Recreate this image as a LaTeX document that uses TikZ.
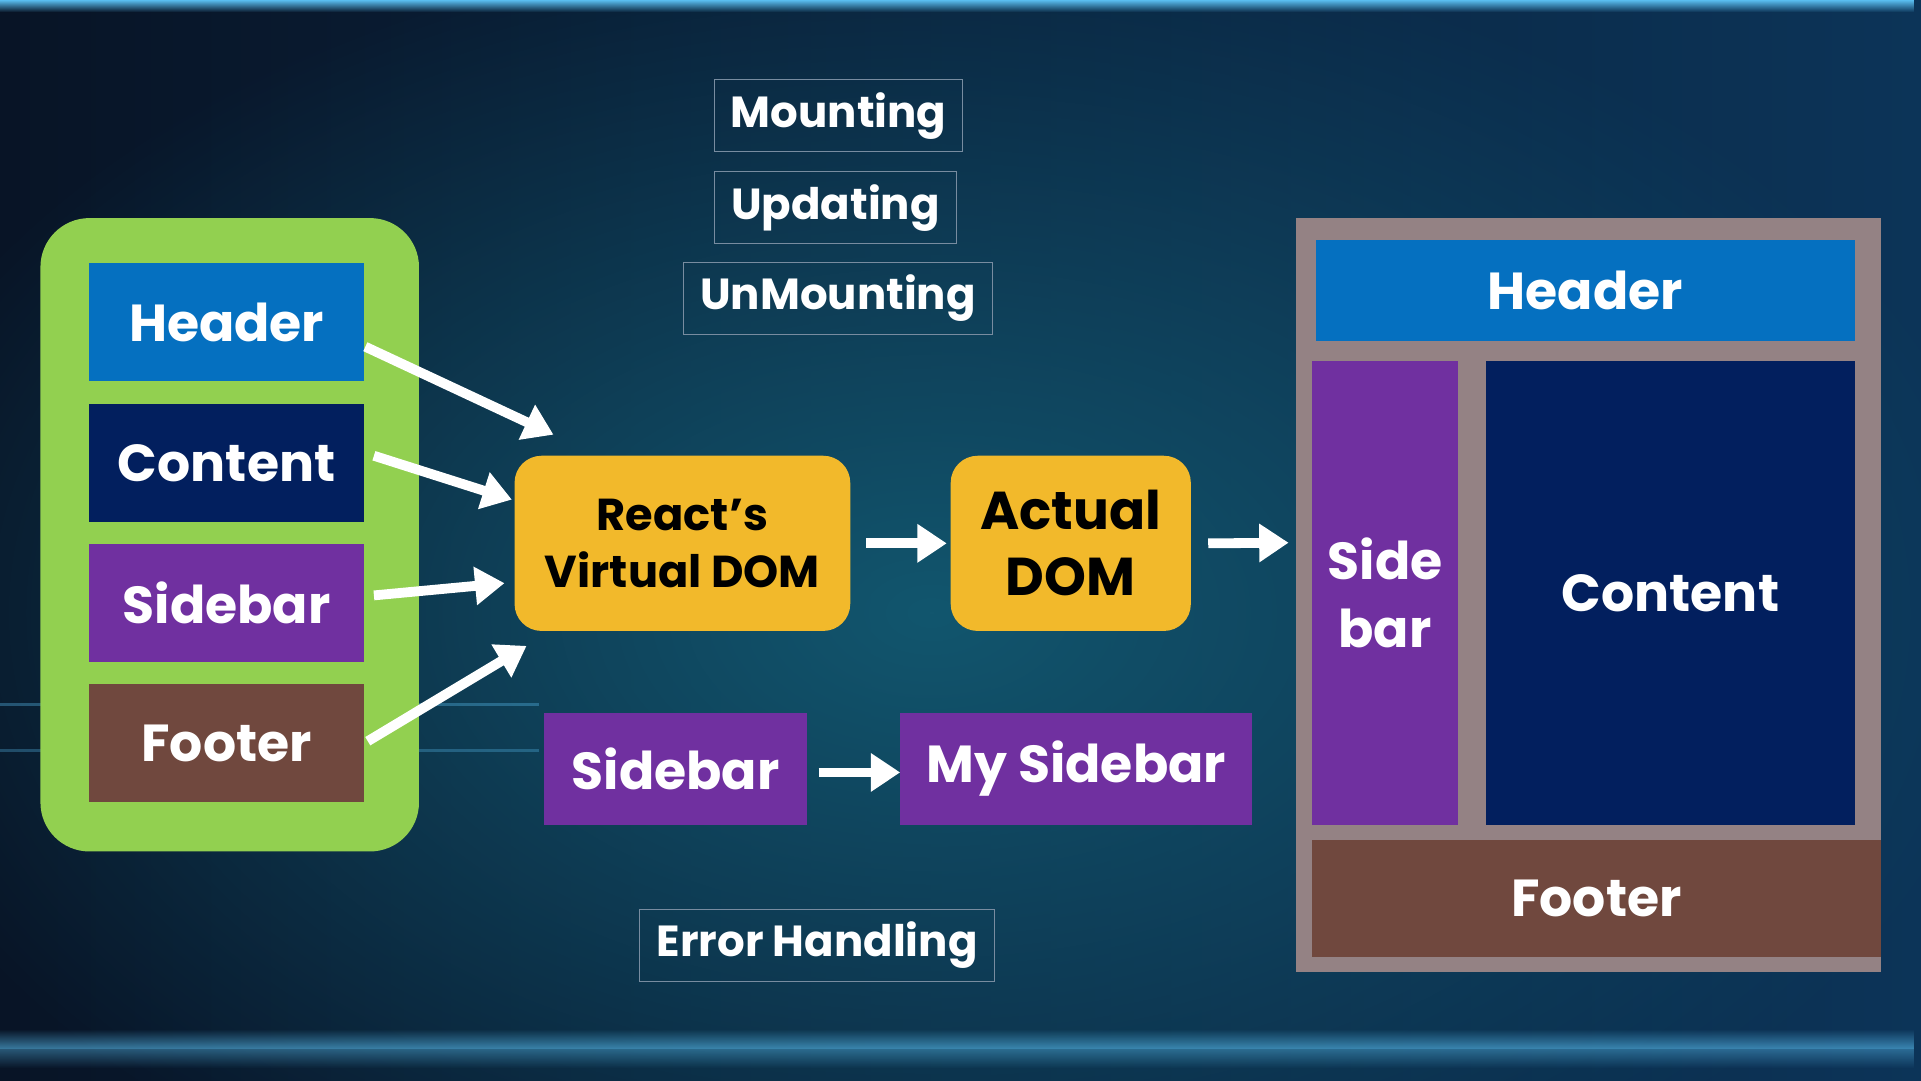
\documentclass[tikz,border=0pt]{standalone}
\usepackage{fontspec}
\setmainfont{Poppins}
\usetikzlibrary{arrows.meta,calc,fadings}
\tikzfading[name=softcircle, inner color=transparent!0, outer color=transparent!100]
\definecolor{bgleft}{RGB}{8,20,38}
\definecolor{bgright}{RGB}{12,52,88}
\definecolor{bgteal}{RGB}{18,86,110}
\definecolor{streak}{RGB}{90,190,240}
\definecolor{hblue}{RGB}{5,112,192}
\definecolor{cnavy}{RGB}{2,31,94}
\definecolor{spurple}{RGB}{112,48,160}
\definecolor{fbrown}{RGB}{112,72,62}
\definecolor{lgreen}{RGB}{146,208,80}
\definecolor{dorange}{RGB}{242,185,43}
\definecolor{fgray}{RGB}{148,130,132}
\definecolor{tline}{RGB}{120,140,160}
\begin{document}
\begin{tikzpicture}[x=1pt,y=-1pt,
  blk/.style={inner sep=0pt, text=white, font=\bfseries\fontsize{42.5}{46}\selectfont},
  tbox/.style={draw=tline, line width=0.8pt, inner sep=0pt, text=white, minimum height=59pt, font=\bfseries\fontsize{35.5}{40}\selectfont},
  obox/.style={fill=dorange, rounded corners=22pt, inner sep=0pt, text=black, align=center},
  bigarrow/.style={white, line width=8pt, -{Triangle[length=24pt,width=30pt]}}
]
\useasboundingbox (0,0) rectangle (1568,882);
% background
\shade[left color=bgleft, right color=bgright] (0,0) rectangle (1568,882);
\fill[bgteal, path fading=softcircle] (760,500) ellipse (900 and 560);
\fill[streak, path fading=south] (0,0) rectangle (1568,10);
\fill[streak, opacity=0.6, path fading=north] (0,840) rectangle (1568,856);
\fill[streak, opacity=0.4, path fading=south] (0,856) rectangle (1568,872);
\fill[streak, opacity=0.35] (0,574) rectangle (440,576.5);
\fill[streak, opacity=0.3] (0,611) rectangle (440,613.5);

% left group
\node[fill=lgreen, rounded corners=40pt, minimum width=309pt, minimum height=517pt, inner sep=0pt] (grp) at (187.5,436.5) {};
\node[blk, fill=hblue, minimum width=224pt, minimum height=96pt] (lh) at (185,263) {Header};
\node[blk, fill=cnavy, minimum width=224pt, minimum height=96pt] (lc) at (185,378) {Content};
\node[blk, fill=spurple, minimum width=224pt, minimum height=96pt] (ls) at (185,492) {Sidebar};
\node[blk, fill=fbrown, minimum width=224pt, minimum height=97pt] (lf) at (185,606.5) {Footer};

% lifecycle text boxes
\node[tbox, minimum width=203pt] (mount) at (684.5,94.5) {Mounting};
\node[tbox, minimum width=198pt] (upd) at (682,169.5) {Updating};
\node[tbox, minimum width=252pt] (unm) at (684,243.5) {UnMounting};
\node[tbox, minimum width=290pt] (err) at (667,771.5) {Error Handling};

% DOM boxes
\node[obox, minimum width=274pt, minimum height=143pt, font=\bfseries\fontsize{36.5}{47}\selectfont] (rvd) at (557,443.5) {React’s\\Virtual DOM};
\node[obox, minimum width=196pt, minimum height=143pt, font=\bfseries\fontsize{43.5}{54}\selectfont] (ad) at (874,443.5) {Actual\\DOM};

% sidebar rename
\node[blk, fill=spurple, minimum width=215pt, minimum height=91pt] (sb) at (551.5,627.5) {Sidebar};
\node[blk, fill=spurple, minimum width=287pt, minimum height=91pt] (msb) at (878.5,627.5) {My Sidebar};

% right layout
\node[fill=fgray, minimum width=477pt, minimum height=615pt, inner sep=0pt] (frame) at (1296.5,485.5) {};
\node[blk, fill=hblue, minimum width=440pt, minimum height=82pt] (rh) at (1294,237) {Header};
\node[blk, fill=spurple, minimum width=119pt, minimum height=378pt, align=center, font=\bfseries\fontsize{42.5}{56}\selectfont] (rs) at (1130.5,484) {Side\\bar};
\node[blk, fill=cnavy, minimum width=301pt, minimum height=378pt] (rc) at (1363.5,484) {Content};
\node[blk, fill=fbrown, minimum width=464pt, minimum height=95pt] (rf) at (1303,733.5) {Footer};

% arrows
\draw[bigarrow] ($(lh.east)+(1,20)$) -- ($(rvd.north west)+(32,-17)$);
\draw[bigarrow] ($(lc.east)+(8,-6)$) -- ($(rvd.north west)+(-2,36)$);
\draw[bigarrow] ($(ls.east)+(8,-6)$) -- ($(rvd.west)+(-8,32.5)$);
\draw[bigarrow] ($(lf.east)+(3,-1.5)$) -- ($(rvd.south west)+(10,12)$);
\draw[bigarrow] ($(rvd.east)+(13,0)$) -- ($(ad.west)+(-3,0)$);
\draw[bigarrow] ($(ad.east)+(14,0)$) -- ($(frame.west)+(-6,-42.5)$);
\draw[bigarrow] ($(sb.east)+(9,3)$) -- ($(msb.west)+(0,3)$);
\end{tikzpicture}
\end{document}
